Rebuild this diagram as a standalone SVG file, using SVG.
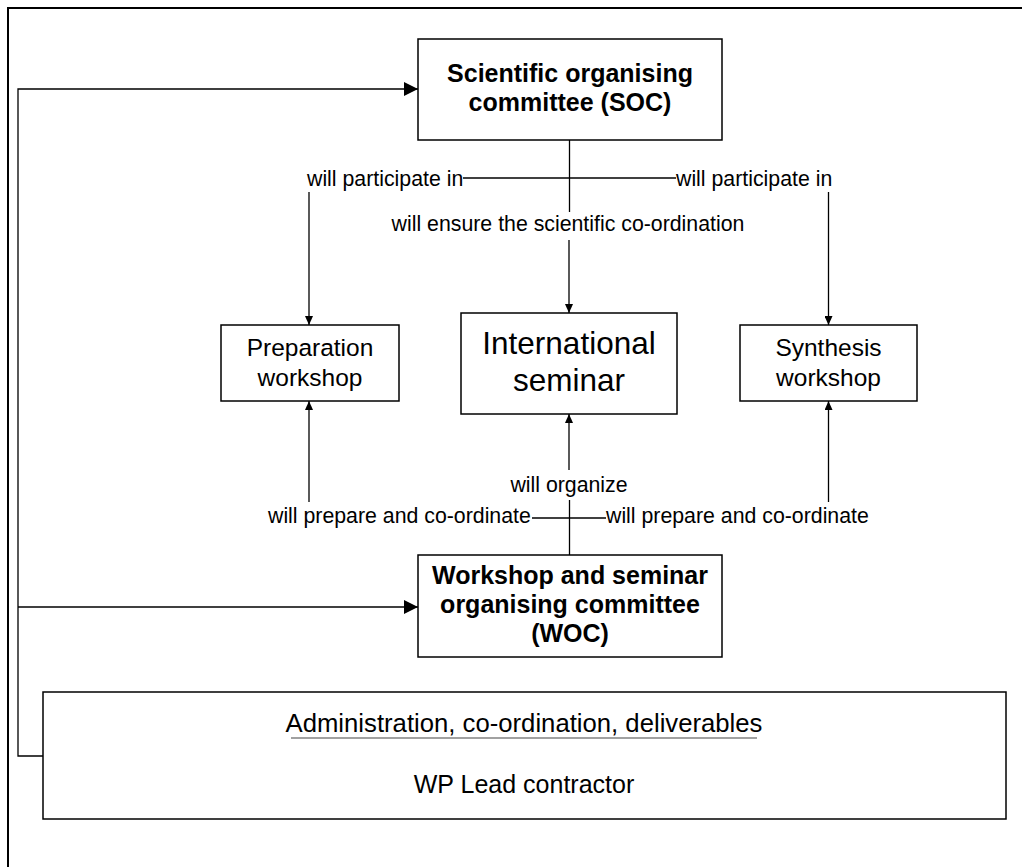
<svg xmlns="http://www.w3.org/2000/svg" width="1022" height="867" viewBox="0 0 1022 867">
<style>
.box{fill:#fff;stroke:#000;stroke-width:1.5}
.ln{fill:none;stroke:#000;stroke-width:1.3}
.lbl{font-family:"Liberation Sans",Arial,sans-serif;font-size:21.3px;fill:#000}
.bold{font-family:"Liberation Sans",Arial,sans-serif;font-size:25px;font-weight:bold;fill:#000;text-anchor:middle}
.reg{font-family:"Liberation Sans",Arial,sans-serif;fill:#000;text-anchor:middle}
</style>
<defs>
<marker id="sa" markerUnits="userSpaceOnUse" markerWidth="9" markerHeight="8" refX="9" refY="4" orient="auto">
<path d="M0,0 L9,4 L0,8 z" fill="#000"/>
</marker>
<marker id="la" markerUnits="userSpaceOnUse" markerWidth="14" markerHeight="14" refX="14" refY="7" orient="auto">
<path d="M0,0 L14,7 L0,14 z" fill="#000"/>
</marker>
</defs>
<rect width="1022" height="867" fill="#fff"/>
<path id="frame" d="M8,880 L8,8 L1040,8" fill="none" stroke="#000" stroke-width="2"/>

<g id="connectors">
<polyline class="ln" points="43,756 18,756 18,89 418,89" marker-end="url(#la)"/>
<line class="ln" x1="18" y1="607" x2="418" y2="607" marker-end="url(#la)"/>
<line class="ln" x1="569.5" y1="140" x2="569.5" y2="212"/>
<line class="ln" x1="463" y1="178" x2="676" y2="178"/>
<line class="ln" x1="569" y1="240" x2="569" y2="313" marker-end="url(#sa)"/>
<line class="ln" x1="309" y1="192" x2="309" y2="325" marker-end="url(#sa)"/>
<line class="ln" x1="828.5" y1="192" x2="828.5" y2="325" marker-end="url(#sa)"/>
<line class="ln" x1="309" y1="502" x2="309" y2="401" marker-end="url(#sa)"/>
<line class="ln" x1="828.5" y1="502" x2="828.5" y2="401" marker-end="url(#sa)"/>
<line class="ln" x1="569" y1="470" x2="569" y2="414" marker-end="url(#sa)"/>
<line class="ln" x1="569.5" y1="500" x2="569.5" y2="555"/>
<line class="ln" x1="532" y1="518" x2="606" y2="518"/>
<text class="lbl" x="307" y="186">will participate in</text>
<text class="lbl" x="676" y="186">will participate in</text>
<text class="lbl" x="568" y="231" text-anchor="middle">will ensure the scientific co-ordination</text>
<text class="lbl" x="569" y="492" text-anchor="middle">will organize</text>
<text class="lbl" x="268" y="523">will prepare and co-ordinate</text>
<text class="lbl" x="606" y="523">will prepare and co-ordinate</text>
</g>

<g id="soc">
<rect class="box" x="418" y="39" width="304" height="101"/>
<text class="bold" x="570" y="82">Scientific organising</text>
<text class="bold" x="570" y="111">committee (SOC)</text>
</g>

<g id="prep">
<rect class="box" x="221" y="325" width="178" height="76"/>
<text class="reg" x="310" y="356" font-size="24.5">Preparation</text>
<text class="reg" x="310" y="386" font-size="24.5">workshop</text>
</g>

<g id="intl">
<rect class="box" x="461" y="313" width="216" height="101"/>
<text class="reg" x="569" y="354" font-size="31.5">International</text>
<text class="reg" x="569" y="391" font-size="31.5">seminar</text>
</g>

<g id="synth">
<rect class="box" x="740" y="325" width="177" height="76"/>
<text class="reg" x="828.5" y="356" font-size="24.5">Synthesis</text>
<text class="reg" x="828.5" y="386" font-size="24.5">workshop</text>
</g>

<g id="woc">
<rect class="box" x="418" y="555" width="304" height="102"/>
<text class="bold" x="570" y="584">Workshop and seminar</text>
<text class="bold" x="570" y="613">organising committee</text>
<text class="bold" x="570" y="642">(WOC)</text>
</g>

<g id="admin">
<rect class="box" x="43" y="692" width="963" height="127"/>
<text class="reg" x="524" y="732" font-size="25.7">Administration, co-ordination, deliverables</text>
<line x1="291" y1="738" x2="757" y2="738" stroke="#444" stroke-width="1.2"/>
<text class="reg" x="524" y="793" font-size="25">WP Lead contractor</text>
</g>
</svg>
